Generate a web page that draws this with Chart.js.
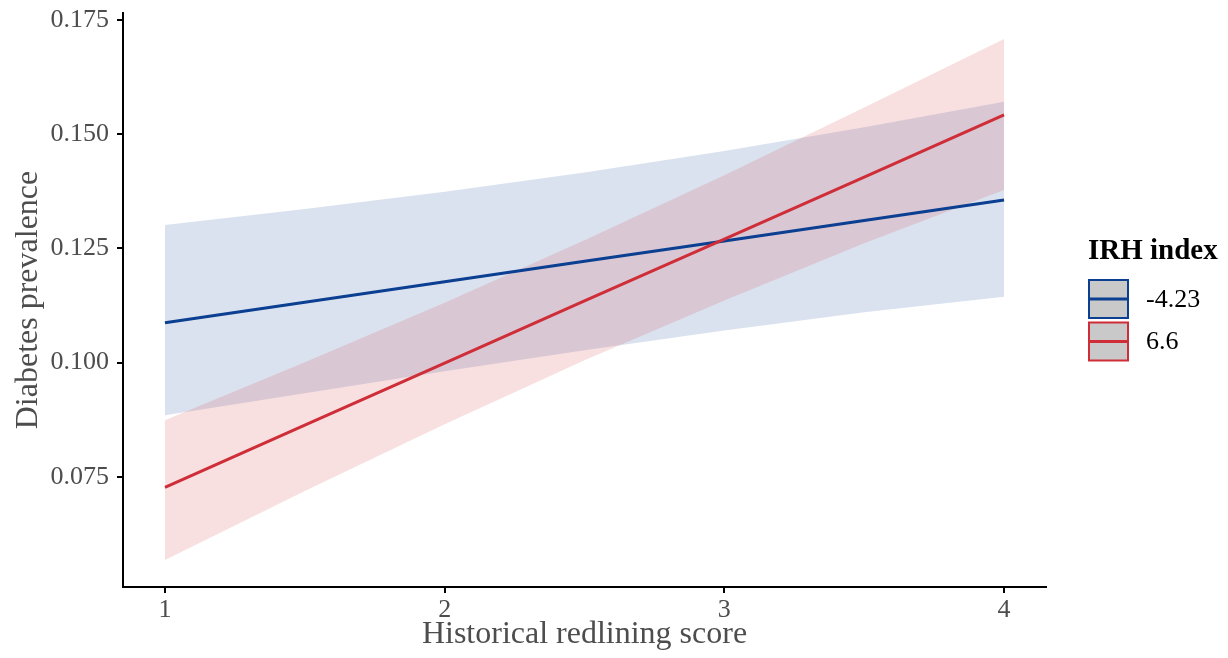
<!DOCTYPE html>
<html>
<head>
<meta charset="utf-8">
<script src="https://cdn.jsdelivr.net/npm/chart.js@4"></script>
<style>
  html, body { margin: 0; padding: 0; background: #fff; }
  #wrap { width: 1228px; height: 658px; }
</style>
</head>
<body>
<div id="wrap"><canvas id="c" width="1228" height="658"></canvas></div>
<script>
// ---- data ----
const xScores   = [1, 1.5, 2, 2.5, 3, 3.5, 4];
const seriesNames = ['-4.23', '6.6'];
const blueFit   = [0.1087, 0.1132, 0.1177, 0.1222, 0.1266, 0.1311, 0.1356];
const blueLower = [0.0885, 0.0933, 0.0981, 0.1027, 0.1070, 0.1110, 0.1144];
const blueUpper = [0.1301, 0.1336, 0.1374, 0.1416, 0.1463, 0.1515, 0.1571];
const redFit    = [0.0727, 0.0863, 0.0999, 0.1135, 0.1270, 0.1406, 0.1542];
const redLower  = [0.0568, 0.0719, 0.0865, 0.1005, 0.1136, 0.1261, 0.1378];
const redUpper  = [0.0874, 0.1001, 0.1131, 0.1268, 0.1410, 0.1558, 0.1708];
const xTicks = [1, 2, 3, 4];
const yTicks = [0.075, 0.100, 0.125, 0.150, 0.175];
const xLabel = 'Historical redlining score';
const yLabel = 'Diabetes prevalence';
const legendTitle = 'IRH index';

// ---- styles ----
const BLUE = '#0b3f91';
const RED = '#cf2d37';
const BLUE_FILL = 'rgba(11,63,145,0.15)';
const RED_FILL = 'rgba(207,45,55,0.15)';
const FONT = '"Liberation Serif", "Times New Roman", serif';

const pts = ys => xScores.map((x, i) => ({ x: x, y: ys[i] }));

const ribbonBase = { borderWidth: 0, borderColor: 'transparent', pointRadius: 0, tension: 0 };

const datasets = [
  { label: seriesNames[1], data: pts(redFit), borderColor: RED, borderWidth: 3, pointRadius: 0, fill: false, order: 0 },
  { label: seriesNames[0], data: pts(blueFit), borderColor: BLUE, borderWidth: 3, pointRadius: 0, fill: false, order: 1 },
  Object.assign({ label: 'redLower', data: pts(redLower), fill: false, order: 2 }, ribbonBase),
  Object.assign({ label: 'redUpper', data: pts(redUpper), fill: 2, backgroundColor: RED_FILL, order: 2 }, ribbonBase),
  Object.assign({ label: 'blueLower', data: pts(blueLower), fill: false, order: 3 }, ribbonBase),
  Object.assign({ label: 'blueUpper', data: pts(blueUpper), fill: 4, backgroundColor: BLUE_FILL, order: 3 }, ribbonBase)
];

const legendPlugin = {
  id: 'ggLegend',
  afterDraw(chart) {
    const ctx = chart.ctx;
    ctx.save();
    ctx.fillStyle = '#000';
    ctx.font = 'bold 29px ' + FONT;
    ctx.textAlign = 'left';
    ctx.textBaseline = 'alphabetic';
    ctx.fillText(legendTitle, 1088, 259);
    const items = [
      { label: seriesNames[0], color: BLUE },
      { label: seriesNames[1], color: RED }
    ];
    items.forEach((it, i) => {
      const x = 1089, y = 280 + i * 42.5, w = 39, h = 38;
      ctx.fillStyle = '#c9c9c9';
      ctx.fillRect(x, y, w, h);
      ctx.strokeStyle = it.color;
      ctx.lineWidth = 2;
      ctx.strokeRect(x, y, w, h);
      ctx.beginPath();
      ctx.moveTo(x + 1, y + h / 2);
      ctx.lineTo(x + w - 1, y + h / 2);
      ctx.lineWidth = 3;
      ctx.stroke();
      ctx.fillStyle = '#000';
      ctx.font = '26px ' + FONT;
      ctx.textBaseline = 'middle';
      ctx.fillText(it.label, 1146, y + h / 2 + 1);
    });
    ctx.restore();
  }
};

new Chart(document.getElementById('c'), {
  type: 'line',
  data: { datasets: datasets },
  plugins: [legendPlugin],
  options: {
    responsive: false,
    animation: false,
    layout: { padding: { top: 0, right: 182, left: 0, bottom: 0 } },
    plugins: {
      legend: { display: false },
      tooltip: { enabled: false },
      filler: { drawTime: 'beforeDatasetDraw' }
    },
    scales: {
      x: {
        type: 'linear',
        min: 0.85,
        max: 4.15,
        afterBuildTicks: s => { s.ticks = xTicks.map(v => ({ value: v })); },
        afterFit: s => { s.height = 71; s.paddingLeft = 0; s.paddingRight = 0; },
        grid: { display: true, drawOnChartArea: false, drawTicks: true, tickLength: 6, color: '#000', lineWidth: 2 },
        border: { display: true, color: '#000', width: 2 },
        ticks: { color: '#4d4d4d', font: { family: FONT, size: 26 }, padding: 2, maxRotation: 0, callback: v => String(v) },
        title: { display: true, text: xLabel, color: '#4d4d4d', font: { family: FONT, size: 32 }, padding: { top: 0, bottom: 4 } }
      },
      y: {
        type: 'linear',
        min: 0.0509,
        max: 0.1765,
        afterBuildTicks: s => { s.ticks = yTicks.map(v => ({ value: v })); },
        afterFit: s => { s.width = 123; s.paddingTop = 13; s.paddingBottom = 0; },
        grid: { display: true, drawOnChartArea: false, drawTicks: true, tickLength: 6, color: '#000', lineWidth: 2 },
        border: { display: true, color: '#000', width: 2 },
        ticks: { color: '#4d4d4d', font: { family: FONT, size: 26 }, padding: 8, callback: v => Number(v).toFixed(3) },
        title: { display: true, text: yLabel, color: '#4d4d4d', font: { family: FONT, size: 32 }, padding: { top: 9, bottom: 0 } }
      }
    }
  }
});
</script>
</body>
</html>
